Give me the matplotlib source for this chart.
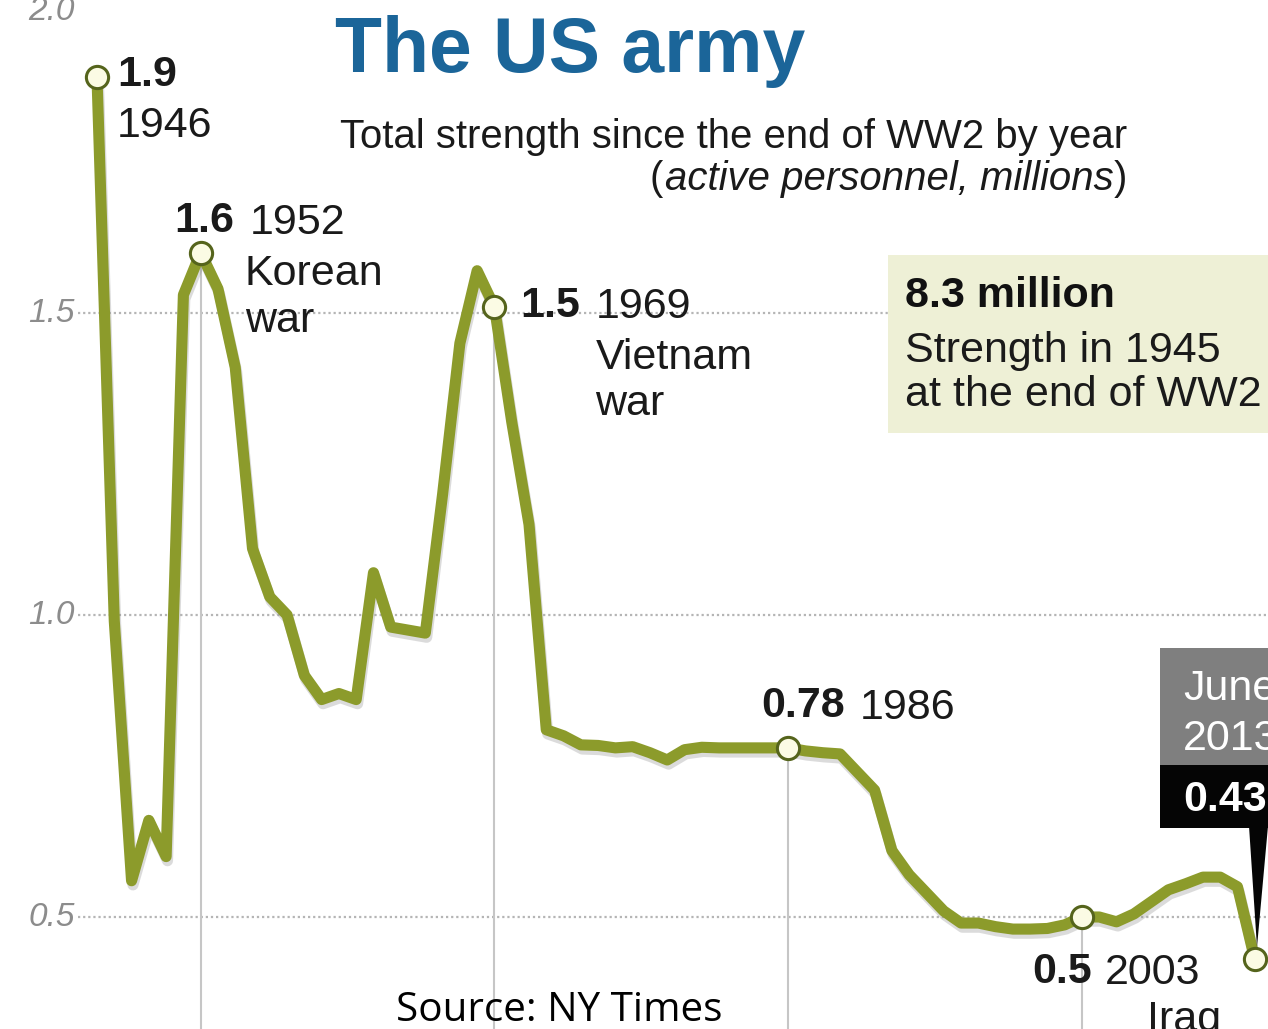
import matplotlib
matplotlib.use('Agg')
import matplotlib.pyplot as plt
import matplotlib.patheffects as pe
from matplotlib.patches import Rectangle, Polygon

# ---------------- data ----------------
years = list(range(1946, 2014))
strength = [1.89, 0.99, 0.56, 0.66, 0.60, 1.53, 1.60, 1.54, 1.41, 1.11,
            1.03, 1.00, 0.90, 0.86, 0.87, 0.86, 1.07, 0.98, 0.975, 0.97,
            1.20, 1.45, 1.57, 1.51, 1.32, 1.15, 0.81, 0.80, 0.785, 0.784,
            0.78, 0.782, 0.772, 0.76, 0.777, 0.781, 0.780, 0.780, 0.780, 0.780,
            0.78, 0.775, 0.772, 0.77, 0.74, 0.71, 0.61, 0.57, 0.54, 0.51,
            0.49, 0.49, 0.484, 0.48, 0.48, 0.481, 0.487, 0.50, 0.50, 0.492,
            0.505, 0.525, 0.545, 0.555, 0.566, 0.566, 0.55, 0.43]
highlight_years = [1946, 1952, 1969, 1986, 2003, 2013]
guide_years = [1952, 1969, 1986, 2003]
ytick_values = [0.5, 1.0, 1.5, 2.0]
ytick_labels = ['0.5', '1.0', '1.5', '2.0']
value_labels = {1946: '1.9', 1952: '1.6', 1969: '1.5', 1986: '0.78', 2003: '0.5'}
event_labels = {1952: 'Korean\nwar', 1969: 'Vietnam\nwar', 2003: 'Iraq'}

title = 'The US army'
subtitle = 'Total strength since the end of WW2 by year'
subtitle2 = 'active personnel, millions'
box_big = '8.3 million'
box_small = ['Strength in 1945', 'at the end of WW2']
latest_date = ['June', '2013']
latest_value = '0.43'
source = 'Source: NY Times'

# ---------------- figure ----------------
W, H = 1268, 1029
fig = plt.figure(figsize=(W / 100, H / 100), dpi=100)
fig.patch.set_facecolor('white')
ax = fig.add_axes([0, 0, 1, 1])
ax.set_facecolor('white')

PX_YEAR = 17.28
X0_PX = 97
Y05_PX = 917
PX_UNIT = 604
ax.set_xlim(1946 - X0_PX / PX_YEAR, 1946 + (W - X0_PX) / PX_YEAR)
ax.set_ylim(0.5 - (H - Y05_PX) / PX_UNIT, 0.5 + Y05_PX / PX_UNIT)
ax.axis('off')
xmin, xmax = ax.get_xlim()
ymin, ymax = ax.get_ylim()

FONT = ['Liberation Sans', 'DejaVu Sans']
renderer = fig.canvas.get_renderer()


def F(x, y):
    return (x / W, 1 - y / H)


def fit_width(t, width):
    bb = t.get_window_extent(renderer)
    t.set_fontsize(t.get_fontsize() * width / bb.width)
    return t


# grid lines and y labels
grid_start = 1946 - 19 / PX_YEAR
ax.hlines(ytick_values[:3], grid_start, xmax, colors='#b5b5b5', lw=1.6,
          linestyles=(0, (1.0, 1.3)), zorder=1)
for v, lab in zip(ytick_values, ytick_labels):
    ax.text(grid_start - 3 / PX_YEAR, v, lab, ha='right', va='center',
            fontsize=24, style='italic', color='#8c8c8c', family=FONT, zorder=2)

# vertical guides from highlighted points down
for yr in guide_years:
    v = strength[years.index(yr)]
    ax.vlines(yr, ymin, v, colors='#c6c6c6', lw=1.5, zorder=1)

# main line
ax.plot(years, strength, color='#8c9b2b', lw=8, solid_joinstyle='round',
        solid_capstyle='round', zorder=3,
        path_effects=[pe.SimpleLineShadow(offset=(1, -3), shadow_color='#8a8a8a',
                                          alpha=0.3), pe.Normal()])

hx = highlight_years
hy = [strength[years.index(y)] for y in hx]
ax.plot(hx, hy, 'o', ms=16, mfc='#fbfbe4', mec='#55641c', mew=2.2, zorder=5)

# annotations
FS = 31


def note(yr, dx, dy, s, bold=False, size=FS, color='#1a1a1a', ha='left'):
    v = strength[years.index(yr)]
    ax.annotate(s, xy=(yr, v), xytext=(dx, dy), textcoords='offset pixels',
                ha=ha, va='center', fontsize=size, family=FONT, color=color,
                fontweight='bold' if bold else 'normal', linespacing=1.2, zorder=6)


note(1946, 20, 2, value_labels[1946], bold=True)
note(1946, 20, -49, '1946')
note(1952, 33, 32, value_labels[1952], bold=True, ha='right')
note(1952, 49, 30, '1952')
note(1952, 44, -45, event_labels[1952])
note(1969, 26, 1, value_labels[1969], bold=True)
note(1969, 101, 0, '1969')
note(1969, 101, -74, event_labels[1969])
note(1986, 57, 42, value_labels[1986], bold=True, ha='right')
note(1986, 72, 40, '1986')
note(2003, 10, -55, value_labels[2003], bold=True, ha='right')
note(2003, 23, -56, '2003')
note(2003, 65, -103, event_labels[2003])

# title and subtitle
t = fig.text(*F(335, 72), title, fontsize=54, fontweight='bold', color='#1b6599',
             family=FONT, va='baseline', ha='left')
fit_width(t, 470)
t = fig.text(*F(340, 148), subtitle, fontsize=28, color='#1a1a1a', family=FONT,
             va='baseline', ha='left')
fit_width(t, 787)
sub_fs = t.get_fontsize()
# second line, right aligned with pieces
right = 1127
p1 = fig.text(*F(right, 190), ')', fontsize=sub_fs, color='#1a1a1a', family=FONT,
              va='baseline', ha='right')
right -= p1.get_window_extent(renderer).width
p2 = fig.text(*F(right, 190), subtitle2, fontsize=sub_fs, style='italic',
              color='#1a1a1a', family=FONT, va='baseline', ha='right')
right -= p2.get_window_extent(renderer).width + 2
fig.text(*F(right, 190), '(', fontsize=sub_fs, color='#1a1a1a', family=FONT,
         va='baseline', ha='right')

# info box
fig.patches.append(Rectangle(F(888, 433), (W - 888) / W, (433 - 255) / H,
                             transform=fig.transFigure, facecolor='#eef0d6',
                             edgecolor='none', zorder=0))
fig.text(*F(905, 307), box_big, fontsize=31, fontweight='bold', color='#111111',
         family=FONT, va='baseline')
fig.text(*F(905, 362), box_small[0], fontsize=31, color='#1a1a1a', family=FONT,
         va='baseline')
fig.text(*F(905, 406), box_small[1], fontsize=31, color='#1a1a1a', family=FONT,
         va='baseline')

# latest value callout
fig.patches.append(Rectangle(F(1160, 765), (W - 1160) / W, (765 - 648) / H,
                             transform=fig.transFigure, facecolor='#7f7f7f',
                             edgecolor='none', zorder=0))
fig.patches.append(Rectangle(F(1160, 828), (W - 1160) / W, (828 - 765) / H,
                             transform=fig.transFigure, facecolor='#050505',
                             edgecolor='none', zorder=0))
fig.patches.append(Polygon([F(1249, 826), F(1268, 826), F(1257, 947)], closed=True,
                           transform=fig.transFigure, facecolor='#050505',
                           edgecolor='none', zorder=0))
fig.text(*F(1183, 700), latest_date[0], fontsize=FS, color='white', family=FONT,
         va='baseline')
fig.text(*F(1183, 750), latest_date[1], fontsize=FS, color='white', family=FONT,
         va='baseline')
fig.text(*F(1183, 811), latest_value, fontsize=FS, color='white', family=FONT,
         va='baseline', fontweight='bold')

# source
t = fig.text(*F(396, 1021), source, fontsize=30, color='black',
             family=['Open Sans', 'DejaVu Sans'], va='baseline', ha='left')
fit_width(t, 326)

fig.savefig('out.png', dpi=100, facecolor='white')
